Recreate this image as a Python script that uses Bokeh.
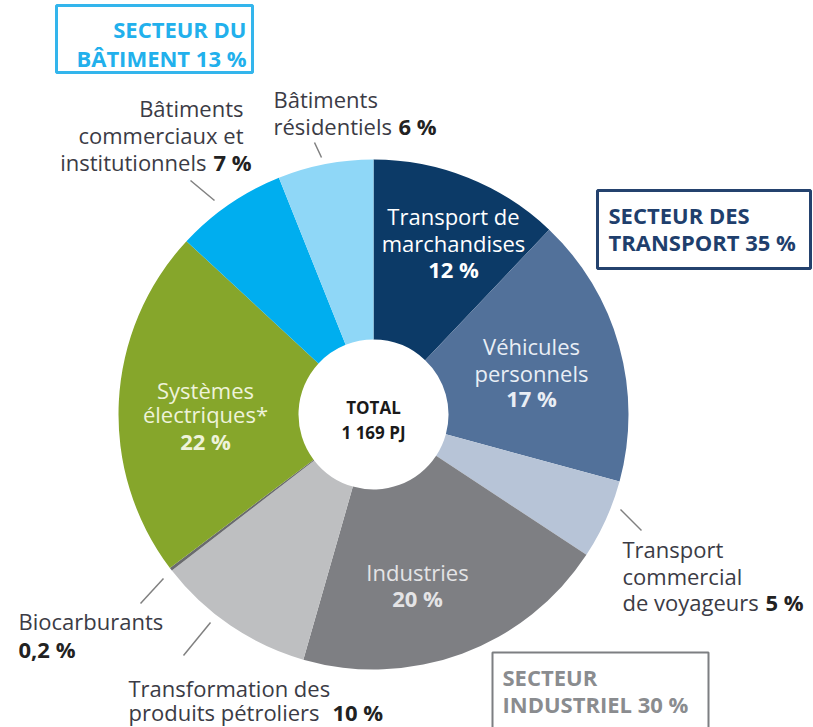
import numpy as np
from bokeh.plotting import figure
from bokeh.models import Range1d
from bokeh.core.properties import value
from bokeh.embed import file_html
from bokeh.resources import INLINE

# ---------------- data ----------------
categories = ["Transport de marchandises", "Véhicules personnels",
              "Transport commercial de voyageurs", "Industries",
              "Transformation des produits pétroliers", "Biocarburants",
              "Systèmes électriques*", "Bâtiments commerciaux et institutionnels",
              "Bâtiments résidentiels"]
shares = [12, 17, 5, 20, 10, 0.2, 22, 7, 6]
colors = ["#0c3a67", "#52719a", "#b7c4d7", "#7e7f83", "#bebfc1", "#6a6b6e",
          "#86a62b", "#00aeef", "#8fd7f7"]
total_lines = ["TOTAL", "1 169 PJ"]
sector_building = ["SECTEUR DU", "BÂTIMENT 13 %"]
sector_transport = ["SECTEUR DES", "TRANSPORT 35 %"]
sector_industry = ["SECTEUR", "INDUSTRIEL 30 %"]

# ---------------- figure ----------------
W, H = 813, 727
p = figure(width=W, height=H, x_range=Range1d(0, W), y_range=Range1d(0, H),
           output_backend="svg", toolbar_location=None,
           x_axis_location=None, y_axis_location=None, min_border=0)
p.grid.visible = False
p.outline_line_color = None
p.background_fill_color = "white"


def X(x):
    return x


def Y(y):
    return H - y


FONT = value("Open Sans")
FS = "22px"

# ---------------- donut ----------------
vals = np.array(shares, dtype=float)
frac = vals / vals.sum()
after = np.cumsum(frac)
before = after - frac
start = np.pi / 2 - 2 * np.pi * before
end = np.pi / 2 - 2 * np.pi * after
cx, cy = X(373), Y(414)
p.annular_wedge(x=cx, y=cy, inner_radius=75, outer_radius=255,
                start_angle=list(start), end_angle=list(end), direction="clock",
                fill_color=colors, line_color=None)


def txt(x, y, s, color="#3a3a3a", bold=False, align="left", size=FS):
    p.text(x=[X(x)], y=[Y(y)], text=[s], text_font=FONT, text_font_size=size,
           text_font_style="bold" if bold else "normal", text_color=color,
           text_align=align, text_baseline="middle")


def seg(x0, y0, x1, y1):
    p.segment(x0=[X(x0)], y0=[Y(y0)], x1=[X(x1)], y1=[Y(y1)],
              line_color="#808080", line_width=1.5)


DARK = "#3b3b45"

# centre
txt(373, 407, total_lines[0], color="#1a1a1a", bold=True, align="center", size="17px")
txt(373, 432, total_lines[1], color="#1a1a1a", bold=True, align="center", size="17px")

# inside labels
txt(453, 215, "Transport de", color="white", align="center")
txt(453, 242, "marchandises", color="white", align="center")
txt(453, 268, "12 %", color="white", bold=True, align="center")

txt(531, 345, "Véhicules", color="#e9eef5", align="center")
txt(531, 372, "personnels", color="#e9eef5", align="center")
txt(531, 397, "17 %", color="#e9eef5", bold=True, align="center")

txt(417, 571, "Industries", color="#e4e4e6", align="center")
txt(417, 597, "20 %", color="#e4e4e6", bold=True, align="center")

txt(205, 389, "Systèmes", color="#eef3da", align="center")
txt(205, 413, "électriques*", color="#eef3da", align="center")
txt(205, 440, "22 %", color="#eef3da", bold=True, align="center")

# outside labels
txt(243, 107, "Bâtiments", color=DARK, align="right")
txt(243, 134, "commerciaux et", color=DARK, align="right")
txt(206, 161, "institutionnels", color=DARK, align="right")
txt(213, 161, "7 %", color="#222222", bold=True)
seg(190, 180, 214, 200)

txt(273, 98, "Bâtiments", color=DARK)
txt(273, 125, "résidentiels", color=DARK)
txt(398, 125, "6 %", color="#222222", bold=True)
seg(314, 142, 321, 157)

txt(622, 548, "Transport", color=DARK)
txt(622, 575, "commercial", color=DARK)
txt(622, 601, "de voyageurs", color=DARK)
txt(765, 601, "5 %", color="#222222", bold=True)
seg(620, 509, 641, 530)

txt(18, 620, "Biocarburants", color=DARK)
txt(18, 648, "0,2 %", color="#222222", bold=True)
seg(140, 603, 163, 578)

txt(128, 687, "Transformation des", color=DARK)
txt(128, 711, "produits pétroliers", color=DARK)
txt(332, 711, "10 %", color="#222222", bold=True)
seg(183, 655, 210, 622)

# sector boxes
p.quad(left=X(56), right=X(252), top=Y(5), bottom=Y(72), fill_color=None,
       line_color="#33b5ec", line_width=3)
txt(246, 28, sector_building[0], color="#22b0ec", bold=True, align="right")
txt(246, 57, sector_building[1], color="#22b0ec", bold=True, align="right")

p.quad(left=X(597), right=X(810), top=Y(190), bottom=Y(268), fill_color=None,
       line_color="#24426e", line_width=3)
txt(608, 214, sector_transport[0], color="#1f3f6d", bold=True)
txt(608, 241, sector_transport[1], color="#1f3f6d", bold=True)

p.quad(left=X(492), right=X(708), top=Y(652), bottom=Y(745), fill_color=None,
       line_color="#7d7f82", line_width=2)
txt(502, 676, sector_industry[0], color="#8a8c8f", bold=True)
txt(502, 703, sector_industry[1], color="#8a8c8f", bold=True)

open("out.html", "w").write(file_html(p, INLINE))
